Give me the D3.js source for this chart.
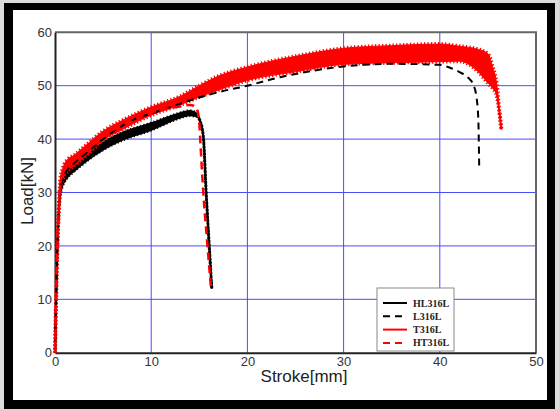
<!DOCTYPE html>
<html>
<head>
<meta charset="utf-8">
<script src="https://cdn.jsdelivr.net/npm/d3@7"></script>
<style>
  body { margin: 0; background: #dcdcdc; }
  .tick text { font-family: "Liberation Sans", Arial, sans-serif; font-size: 13px; fill: #333; }
</style>
</head>
<body>
<div id="chart"></div>
<script>
// Load vs stroke curves
// HL316L - black solid (noisy band: low / high)
var hlX  = [0, 0.1, 0.25, 0.4, 0.55, 0.8, 1.2, 2, 3, 5, 7, 10, 12, 13, 14, 14.6, 14.9, 15.1, 15.3, 15.45, 15.7, 16.0, 16.3];
var hlLo = [0, 9, 20, 26.5, 29.5, 31.3, 32.6, 34, 35.5, 38, 39.8, 41.7, 43.3, 44.0, 44.4, 44.3, 44.0, 43.3, 42, 39.8, 30.4, 21, 12];
var hlHi = [0, 9, 20, 26.5, 30.5, 32.3, 33.6, 35.2, 36.8, 39.4, 41.2, 43.0, 44.3, 44.9, 45.3, 45.0, 44.3, 43.3, 42, 39.8, 30.4, 21, 12];

// L316L - black dashed
var lX = [0, 0.1, 0.25, 0.4, 0.55, 0.8, 1.2, 2, 3, 5, 8, 10, 12, 15, 17, 20, 23.4, 25, 30, 35, 40, 41, 42, 43, 43.5, 43.8, 44.0, 44.1];
var lY = [0, 9, 20, 26.8, 30.5, 32.5, 34, 35.5, 37, 40, 43.5, 44.8, 46, 47.8, 48.8, 50, 51.6, 52.2, 53.6, 54.1, 53.9, 53.4, 52.6, 51.4, 50.1, 48, 43.9, 34.2];

// T316L - red solid (noisy band: low / high)
var tX  = [0, 0.1, 0.25, 0.4, 0.55, 0.8, 1.2, 2, 3, 5, 7, 10, 13, 15, 17, 20, 25, 30, 35, 40, 42, 44, 45, 45.5, 45.9, 46.2, 46.4];
var tLo = [0, 9, 20, 27, 30.5, 32.5, 33.8, 35, 36.5, 39.8, 41.8, 44.5, 46.4, 47.9, 49.2, 51, 52.6, 54, 54.3, 54.5, 54.6, 52.6, 50.5, 49.5, 48.2, 45, 41.8];
var tHi = [0, 9, 20, 27, 32.5, 34.5, 36, 37, 38.5, 41.5, 43.5, 46, 48, 50, 51.8, 53.5, 55.5, 57, 57.5, 57.8, 57.4, 56.8, 56, 53.5, 50.5, 45, 41.8];

// HT316L - red dashed
var htX = [0, 0.1, 0.25, 0.4, 0.55, 0.8, 1.2, 2, 3, 5, 8, 10, 12, 13, 14, 14.5, 14.8, 15.0, 15.1, 15.4, 15.8, 16.2];
var htY = [0, 9, 20, 27, 31.5, 33.5, 35, 36, 37.5, 40.5, 43.5, 45, 45.8, 46.1, 46.4, 46.2, 45.4, 43, 39.8, 30.4, 21.1, 12.4];

var xTicks = [0, 10, 20, 30, 40, 50];
var yTicks = [0, 10, 20, 30, 40, 50, 60];
var legendNames = ["HL316L", "L316L", "T316L", "HT316L"];

var svgWidth = 559;
var svgHeight = 409;
var plot = { left: 55, top: 32.3, right: 536, bottom: 352.7 };

var svg = d3.select("#chart")
  .append("svg")
  .attr("width", svgWidth)
  .attr("height", svgHeight);

// black picture frame
svg.append("rect")
  .attr("x", 4).attr("y", 3)
  .attr("width", 551).attr("height", 406)
  .attr("fill", "black");
svg.append("rect")
  .attr("x", 13).attr("y", 10)
  .attr("width", 534).attr("height", 390)
  .attr("fill", "white");

var xScale = d3.scaleLinear().domain([0, 50]).range([plot.left, plot.right]);
var yScale = d3.scaleLinear().domain([0, 60]).range([plot.bottom, plot.top]);

// grid
var grid = svg.append("g");
grid.selectAll(".vg")
  .data(xTicks.slice(1, -1))
  .enter()
  .append("line")
  .attr("x1", d => xScale(d)).attr("x2", d => xScale(d))
  .attr("y1", plot.top).attr("y2", plot.bottom)
  .attr("stroke", "#4a4aff").attr("stroke-width", 1);
grid.selectAll(".hg")
  .data(yTicks.slice(1, -1))
  .enter()
  .append("line")
  .attr("x1", plot.left).attr("x2", plot.right)
  .attr("y1", d => yScale(d)).attr("y2", d => yScale(d))
  .attr("stroke", "#4a4aff").attr("stroke-width", 1);

// plot frame (top/right grey)
svg.append("path")
  .attr("d", `M${plot.left},${plot.top}H${plot.right}V${plot.bottom}`)
  .attr("fill", "none")
  .attr("stroke", "#666")
  .attr("stroke-width", 2);

// axes
var bottomAxis = d3.axisBottom(xScale).tickValues(xTicks).tickSize(0).tickPadding(4);
var leftAxis = d3.axisLeft(yScale).tickValues(yTicks).tickSize(0).tickPadding(3);

var xAxis = svg.append("g")
  .attr("transform", `translate(0, ${plot.bottom})`)
  .call(bottomAxis);
var yAxis = svg.append("g")
  .attr("transform", `translate(${plot.left}, 0)`)
  .call(leftAxis);
xAxis.select(".domain").attr("stroke", "#222").attr("stroke-width", 2);
yAxis.select(".domain").attr("stroke", "#222").attr("stroke-width", 2);

// curves
var line = d3.line().x(d => xScale(d[0])).y(d => yScale(d[1])).curve(d3.curveMonotoneX);
var band = d3.area().x(d => xScale(d[0])).y0(d => yScale(d[1])).y1(d => yScale(d[2])).curve(d3.curveMonotoneX);

function zipBand(xs, lo, hi) {
  return xs.map((x, i) => [x, lo[i], hi[i]]);
}
function zipMid(xs, lo, hi) {
  return xs.map((x, i) => [x, (lo[i] + hi[i]) / 2]);
}
function zip(xs, ys) {
  return xs.map((x, i) => [x, ys[i]]);
}

var curves = svg.append("g");

// HL316L
curves.append("path")
  .attr("d", band(zipBand(hlX, hlLo, hlHi)))
  .attr("fill", "black").attr("stroke", "black").attr("stroke-width", 1.5);
curves.append("path")
  .attr("d", band(zipBand(hlX, hlLo, hlHi)))
  .attr("fill", "none").attr("stroke", "black")
  .attr("stroke-width", 3).attr("stroke-dasharray", "1.2,2.3");
curves.append("path")
  .attr("d", line(zipMid(hlX, hlLo, hlHi)))
  .attr("fill", "none").attr("stroke", "black").attr("stroke-width", 2);

// T316L
curves.append("path")
  .attr("d", band(zipBand(tX, tLo, tHi)))
  .attr("fill", "red").attr("stroke", "red").attr("stroke-width", 1);
curves.append("path")
  .attr("d", band(zipBand(tX, tLo, tHi)))
  .attr("fill", "none").attr("stroke", "red")
  .attr("stroke-width", 4).attr("stroke-dasharray", "1.3,2.2");
curves.append("path")
  .attr("d", line(zipMid(tX, tLo, tHi)))
  .attr("fill", "none").attr("stroke", "red").attr("stroke-width", 2);

// L316L
curves.append("path")
  .attr("d", line(zip(lX, lY)))
  .attr("fill", "none").attr("stroke", "black")
  .attr("stroke-width", 2).attr("stroke-dasharray", "7,5");

// HT316L
curves.append("path")
  .attr("d", line(zip(htX, htY)))
  .attr("fill", "none").attr("stroke", "red")
  .attr("stroke-width", 2.5).attr("stroke-dasharray", "8,5");

// axis titles
svg.append("text")
  .attr("x", 304).attr("y", 382)
  .attr("text-anchor", "middle")
  .style("font-family", "Liberation Sans, Arial, sans-serif")
  .style("font-size", "17px")
  .attr("fill", "#222")
  .text("Stroke[mm]");

svg.append("text")
  .attr("transform", "translate(33, 191) rotate(-90)")
  .attr("text-anchor", "middle")
  .style("font-family", "Liberation Sans, Arial, sans-serif")
  .style("font-size", "17px")
  .attr("fill", "#222")
  .text("Load[kN]");

// legend
var legend = svg.append("g").attr("transform", "translate(377, 288)");
legend.append("rect")
  .attr("width", 77).attr("height", 63)
  .attr("fill", "white").attr("stroke", "#888").attr("stroke-width", 1);

var legendColors = ["black", "black", "red", "red"];
var legendDash = [null, "7,5", null, "7,5"];
legendNames.forEach(function(name, i) {
  var yy = 15 + i * 13.3;
  legend.append("line")
    .attr("x1", 6).attr("x2", 30)
    .attr("y1", yy).attr("y2", yy)
    .attr("stroke", legendColors[i])
    .attr("stroke-width", 2)
    .attr("stroke-dasharray", legendDash[i]);
  legend.append("text")
    .attr("x", 36).attr("y", yy + 3.5)
    .style("font-family", "Liberation Serif, Times New Roman, serif")
    .style("font-weight", "bold")
    .style("font-size", "10px")
    .attr("fill", "#222")
    .text(name);
});
</script>
</body>
</html>
